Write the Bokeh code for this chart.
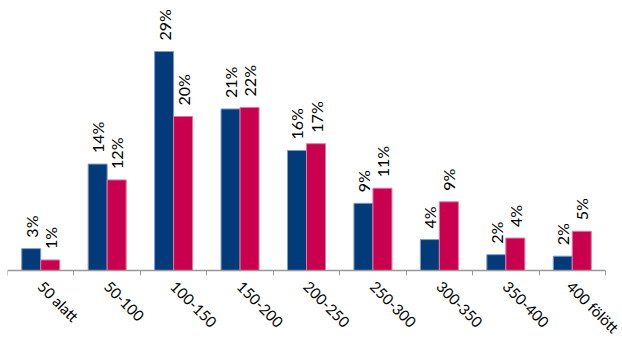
import math
from bokeh.plotting import figure
from bokeh.models import ColumnDataSource, Range1d, FixedTicker
from bokeh.transform import dodge
from bokeh.core.properties import value
from bokeh.embed import file_html
from bokeh.resources import INLINE

categories = ["50 alatt", "50-100", "100-150", "150-200", "200-250",
              "250-300", "300-350", "350-400", "400 fölött"]
blue_vals = [2.9, 14.1, 29.0, 21.4, 15.9, 8.9, 4.1, 2.1, 1.9]
red_vals = [1.4, 12.0, 20.4, 21.6, 16.8, 10.9, 9.1, 4.3, 5.2]
blue_labels = ["3%", "14%", "29%", "21%", "16%", "9%", "4%", "2%", "2%"]
red_labels = ["1%", "12%", "20%", "22%", "17%", "11%", "9%", "4%", "5%"]

BLUE = "#033A7A"
RED = "#C8004E"
FONT = "Lato"

n = len(categories)
xs = list(range(n))
src = ColumnDataSource(dict(x=xs, blue=blue_vals, red=red_vals,
                            blue_lbl=blue_labels, red_lbl=red_labels))

# frame spans 615 px; the category area (9 units) covers 598 px of it
x_end = -0.5 + 615 / (598 / n)
p = figure(width=622, height=338, output_backend="svg", toolbar_location=None,
           x_range=Range1d(-0.5, x_end), y_range=Range1d(-9.0, 35.76),
           min_border_left=7, min_border_right=0, min_border_top=0, min_border_bottom=0)
p.outline_line_color = None
p.background_fill_color = "white"
p.border_fill_color = "white"
p.xgrid.grid_line_color = None
p.ygrid.grid_line_color = None
p.yaxis.visible = False

bw = 0.286
p.vbar(x=dodge("x", -bw / 2, range=p.x_range), top="blue", width=bw, bottom=0,
       source=src, fill_color=BLUE, line_color="#7f9cc6", line_width=1)
p.vbar(x=dodge("x", bw / 2, range=p.x_range), top="red", width=bw, bottom=0,
       source=src, fill_color=RED, line_color="#e07aa0", line_width=1)

p.text(x=dodge("x", -bw / 2, range=p.x_range), y="blue", text="blue_lbl", source=src,
       angle=math.pi / 2, text_align="left", text_baseline="middle",
       y_offset=-11, text_font=value(FONT), text_font_size="16px", text_color="black")
p.text(x=dodge("x", bw / 2, range=p.x_range), y="red", text="red_lbl", source=src,
       angle=math.pi / 2, text_align="left", text_baseline="middle",
       y_offset=-11, text_font=value(FONT), text_font_size="16px", text_color="black")

ax = p.xaxis[0]
ax.fixed_location = 0
ax.bounds = (-0.5, n - 0.5)
ax.ticker = FixedTicker(ticks=xs, minor_ticks=[i - 0.5 for i in range(n + 1)])
ax.major_label_overrides = {i: c for i, c in enumerate(categories)}
ax.major_label_orientation = -math.pi / 4
ax.major_label_text_font = FONT
ax.major_label_text_font_size = "15px"
ax.major_label_text_color = "black"
ax.major_label_standoff = 8
ax.major_tick_line_color = None
ax.major_tick_in = 0
ax.major_tick_out = 0
ax.minor_tick_line_color = "#999999"
ax.minor_tick_in = 0
ax.minor_tick_out = 5
ax.axis_line_color = "#999999"
ax.axis_line_width = 1.5

open("out.html", "w").write(file_html(p, INLINE))
